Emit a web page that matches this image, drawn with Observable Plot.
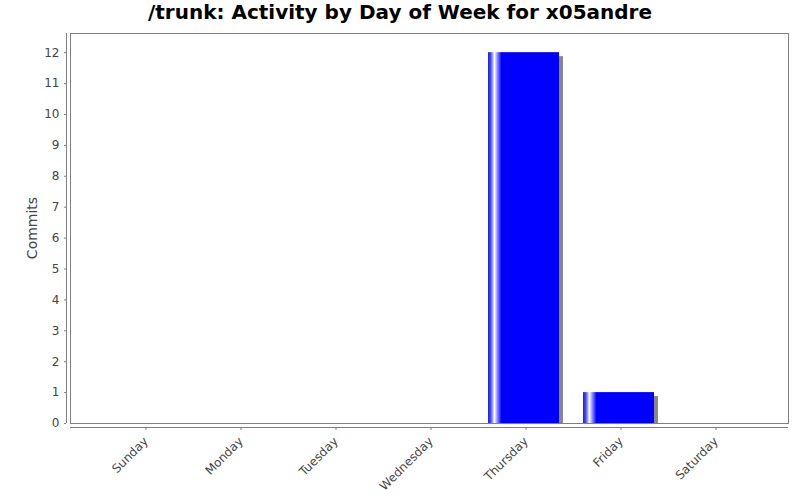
<!DOCTYPE html>
<html>
<head>
<meta charset="utf-8">
<script src="https://cdn.jsdelivr.net/npm/d3@7"></script>
<script src="https://cdn.jsdelivr.net/npm/@observablehq/plot@0.6"></script>
<style>
  html, body { margin: 0; padding: 0; background: #ffffff; }
  #title { width: 800px; height: 30px; line-height: 30px; text-align: center;
           font: bold 20px "DejaVu Sans", sans-serif; color: #000; white-space: nowrap; }
  #chart svg { display: block; }
</style>
</head>
<body>
<div id="title">/trunk: Activity by Day of Week for x05andre</div>
<div id="chart"></div>
<script>
const days = ["Sunday", "Monday", "Tuesday", "Wednesday", "Thursday", "Friday", "Saturday"];
const commits = [0, 0, 0, 0, 12, 1, 0];
const yTicks = [0, 1, 2, 3, 4, 5, 6, 7, 8, 9, 10, 11, 12];
const yLabel = "Commits";

(function () {
const data = days.map((d, i) => ({day: d, commits: commits[i]}));
const axisColor = "#808080";
const font = "DejaVu Sans, sans-serif";

const plot = Plot.plot({
  width: 800,
  height: 470,
  marginTop: 3,
  marginBottom: 77,
  marginLeft: 70,
  marginRight: 12,
  style: {fontFamily: font, fontSize: "12px", background: "#ffffff", color: "#444444"},
  x: {domain: days, paddingInner: 0.25, paddingOuter: 0.375, label: null},
  y: {domain: [0, 12.62], label: null},
  marks: [
    Plot.barY(data.filter(d => d.commits > 0), {x: "day", y: "commits", fill: "#888888", dx: 4, dy: 4, clip: true}),
    Plot.barY(data.filter(d => d.commits > 0), {x: "day", y: "commits", fill: "url(#barGrad)"}),
    Plot.frame({stroke: axisColor}),
    Plot.axisY(yTicks, {tickSize: 2, dx: -4, tickPadding: 5, stroke: axisColor, fill: "#444444", label: null, fontSize: 12}),
    Plot.axisX({tickSize: 3, dy: 4, dx: 2, tickRotate: -45, stroke: axisColor, fill: "#444444", label: null, fontSize: 12})
  ]
});

const svg = d3.select(plot);
const defs = svg.insert("defs", ":first-child");
const g = defs.append("linearGradient").attr("id", "barGrad")
  .attr("x1", "0").attr("x2", "1").attr("y1", "0").attr("y2", "0");
[[0, "#2020c8"], [0.04, "#4a4aff"], [0.09, "#ffffff"], [0.13, "#9090ff"], [0.19, "#0000ff"], [1, "#0000ff"]]
  .forEach(([o, c]) => g.append("stop").attr("offset", o).attr("stop-color", c));

const xs = plot.scale("x"), ys = plot.scale("y");
const x0 = xs.range[0], x1 = xs.range[1];
const yTop = ys.range[1], yBottom = ys.range[0];
svg.append("line").attr("x1", x0 - 3.5).attr("x2", x0 - 3.5).attr("y1", yTop).attr("y2", yBottom)
  .attr("stroke", axisColor);
svg.append("line").attr("x1", x0).attr("x2", x1).attr("y1", yBottom + 4.5).attr("y2", yBottom + 4.5)
  .attr("stroke", axisColor);
svg.append("text").text(yLabel)
  .attr("transform", `translate(37,${(yTop + yBottom) / 2}) rotate(-90)`)
  .attr("text-anchor", "middle").attr("font-family", font).attr("font-size", 14).attr("fill", "#444444");

document.getElementById("chart").appendChild(plot);
})();
</script>
</body>
</html>
